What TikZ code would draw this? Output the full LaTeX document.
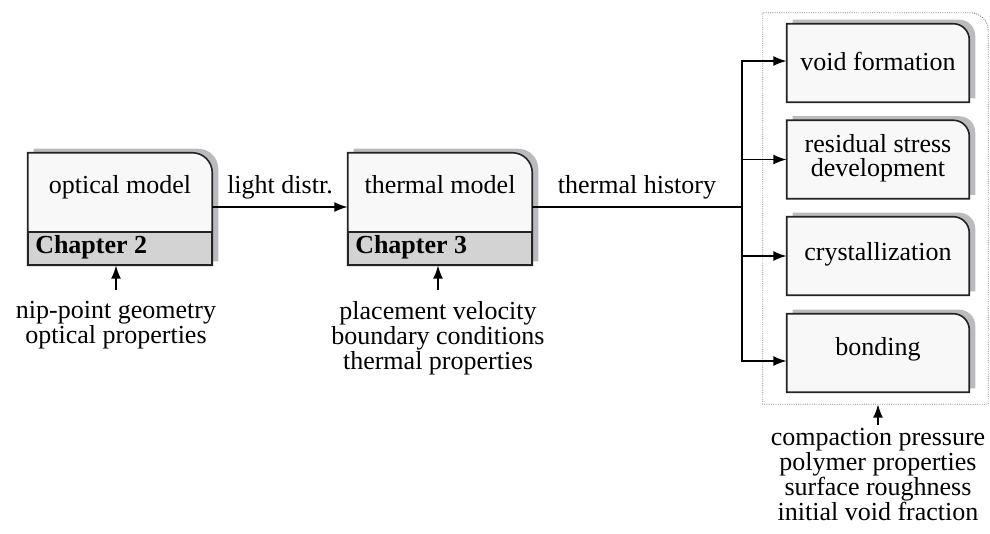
\documentclass[tikz,border=0pt]{standalone}
\usepackage{fontspec}
\setmainfont{Liberation Serif}
\usetikzlibrary{arrows.meta,calc}
\definecolor{boxfill}{RGB}{248,248,248}
\definecolor{bandfill}{RGB}{211,211,212}
\definecolor{shadowc}{RGB}{186,187,191}
\definecolor{edge}{RGB}{35,35,35}
\newcommand\cornershape[3]{%
  \path[#3] (#1.south west) -- (#1.north west) -- ([xshift=-#2]#1.north east)
    .. controls ([xshift={-0.448*#2}]#1.north east) and ([yshift={-0.448*#2}]#1.north east)
    .. ([yshift=-#2]#1.north east) -- (#1.south east) -- cycle;}
\tikzset{
  mainbox/.style={inner sep=0pt, minimum width=138pt, minimum height=84pt},
  smallbox/.style={inner sep=0pt, minimum width=136.5pt, minimum height=58.5pt},
  txt/.style={inner sep=0pt, anchor=base},
  multi/.style={inner sep=0pt, anchor=north, align=center},
  arr/.style={draw=black, line width=1.4pt, -{Latex[length=10pt,width=7.5pt]}},
  link/.style={draw=black, line width=1.4pt},
  boxdraw/.style={fill=boxfill, draw=edge, line width=1.2pt},
  shadowdraw/.style={fill=shadowc, transform canvas={shift={(4.5pt,3pt)}}},
  band/.style={fill=bandfill, draw=edge, line width=1.2pt},
  containerline/.style={draw=gray, densely dotted, line width=0.7pt},
}
\begin{document}
\begin{tikzpicture}[x=0.75pt,y=-0.75pt,font=\fontsize{19.5}{17.5}\selectfont]
\useasboundingbox (0,0) rectangle (990,533);
% frames
\node[mainbox] (opt) at (120,209) {};
\node[mainbox] (th) at (440,209) {};
\node[inner sep=0pt, minimum width=168.75pt, minimum height=293.25pt] (grp) at (875.5,208.5) {};
\node[smallbox] (void) at (878,63) {};
\node[smallbox] (res) at (878,159.5) {};
\node[smallbox] (cry) at (878,256) {};
\node[smallbox] (bond) at (878,353) {};
% shapes
\cornershape{grp}{13.5pt}{containerline}
\cornershape{opt}{15pt}{shadowdraw}
\cornershape{opt}{15pt}{boxdraw}
\cornershape{th}{15pt}{shadowdraw}
\cornershape{th}{15pt}{boxdraw}
\cornershape{void}{12pt}{shadowdraw}
\cornershape{void}{12pt}{boxdraw}
\cornershape{res}{12pt}{shadowdraw}
\cornershape{res}{12pt}{boxdraw}
\cornershape{cry}{12pt}{shadowdraw}
\cornershape{cry}{12pt}{boxdraw}
\cornershape{bond}{12pt}{shadowdraw}
\cornershape{bond}{12pt}{boxdraw}
\path[band] (opt.south west) rectangle ([yshift=24.75pt]opt.south east);
\path[band] (th.south west) rectangle ([yshift=24.75pt]th.south east);
% texts
\node[txt] (optl) at (120,193) {optical model};
\node[txt, anchor=base west] (optc) at (35,253) {\bfseries Chapter 2};
\node[txt] (thl) at (440,193) {thermal model};
\node[txt, anchor=base west] (thc) at (355,253) {\bfseries Chapter 3};
\node[txt] (voidl) at (878,70) {void formation};
\node[multi, font=\fontsize{19.5}{18.5}\selectfont] (resl) at (878,134) {residual stress\\development};
\node[txt] (cryl) at (878,260) {crystallization};
\node[txt] (bondl) at (878,355) {bonding};
% connectors
\draw[arr] ([yshift=1.5pt]opt.east) -- ([yshift=1.5pt]th.west);
\node[txt] (ld) at (280,193) {light distr.};
\coordinate (br) at (742,207);
\draw[link] ([yshift=1.5pt]th.east) -- (br);
\node[txt] (thh) at (637,193) {thermal history};
\coordinate (bt) at (742,61);
\coordinate (bb) at (742,361);
\draw[link, line cap=rect] (bt) -- (bb);
\draw[arr] (bt) -- (bt -| void.west);
\draw[arr] (br |- res.west) -- (res.west);
\draw[arr] (br |- cry.west) -- (cry.west);
\draw[arr] (bb) -- (bb -| bond.west);
% inputs
\node[multi] (in1) at (116,301) {nip-point geometry\\optical properties};
\draw[arr] ([yshift=8pt]in1.north) -- (in1.north |- opt.south);
\node[multi] (in2) at (438,301) {placement velocity\\boundary conditions\\thermal properties};
\draw[arr] ([yshift=8pt]in2.north) -- (in2.north |- th.south);
\node[multi] (in3) at (878,428) {compaction pressure\\polymer properties\\surface roughness\\initial void fraction};
\draw[arr] ([yshift=2.5pt]in3.north) -- (in3.north |- grp.south);
\end{tikzpicture}
\end{document}
